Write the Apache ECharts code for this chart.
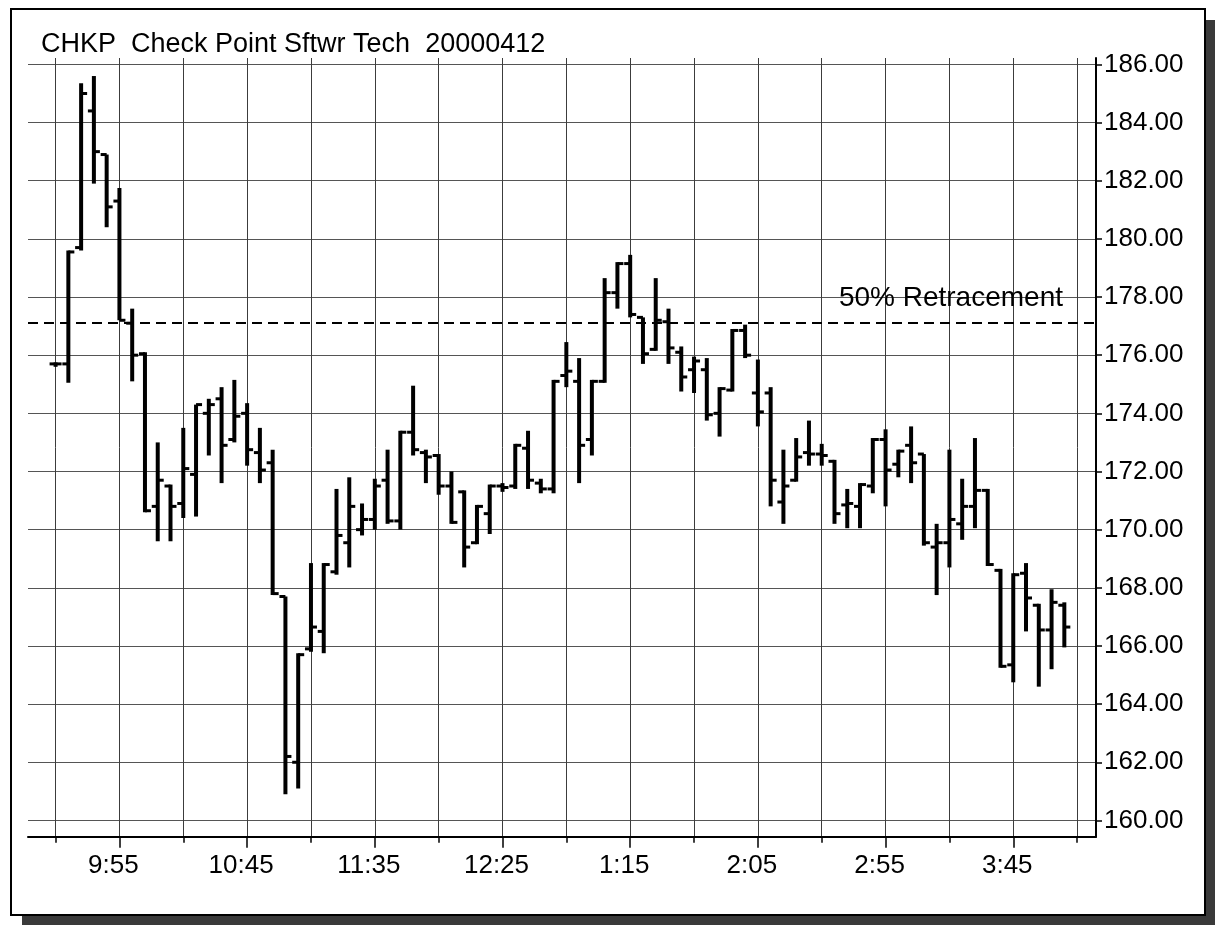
<!DOCTYPE html>
<html><head><meta charset="utf-8">
<script src="https://cdn.jsdelivr.net/npm/echarts@6/dist/echarts.min.js"></script>
<style>html,body{margin:0;padding:0;background:#fff}#c{width:1215px;height:925px}</style>
</head><body><div id="c"></div>
<script>
// ---- data ----
const chartTitle = 'CHKP  Check Point Sftwr Tech  20000412';
const barMinutes = 5; // each bar is 5 minutes, first bar at 9:30
const opens  = [175.7,175.7,179.7,184.4,182.9,181.3,177.1,176.05,170.8,171.5,
                170.9,171.9,174.0,174.5,173.1,174.0,172.65,172.3,167.7,162.0,
                165.9,166.5,168.55,169.55,170.0,170.35,171.7,170.3,173.35,172.65,
                172.55,171.5,171.3,169.55,170.55,171.5,171.5,172.8,171.6,171.4,
                175.3,175.1,173.1,175.1,178.15,179.15,177.3,176.2,177.15,176.1,
                175.5,175.5,174.0,174.8,176.85,174.7,174.7,170.95,171.7,172.65,
                172.6,172.35,170.85,170.8,171.5,173.1,172.25,172.9,172.6,169.4,
                169.55,170.2,170.8,171.35,168.6,165.35,168.5,167.4,166.55,167.4];
const highs  = [175.75,179.6,185.35,185.6,182.9,181.75,177.6,176.1,173.0,171.55,
                173.5,174.3,174.5,174.9,175.15,174.35,173.5,172.75,167.7,165.75,
                168.85,168.85,171.4,171.8,170.9,171.75,172.75,173.4,174.95,172.75,
                172.6,172.0,171.35,170.85,171.55,171.6,172.95,173.4,171.75,175.15,
                176.45,175.9,175.15,178.65,179.2,179.45,177.3,178.65,177.6,176.3,
                175.95,175.9,174.9,176.9,177.05,175.85,174.9,172.75,173.15,173.75,
                172.95,172.4,171.4,171.6,173.15,173.45,172.75,173.55,172.6,170.2,
                172.75,171.75,173.15,171.4,168.65,168.5,168.85,167.45,167.95,167.5];
const lows   = [175.6,175.05,179.6,181.9,180.4,177.2,175.1,170.6,169.6,169.6,
                170.4,170.45,172.55,171.6,173.0,172.2,171.6,167.75,160.9,161.1,
                165.8,165.75,168.45,168.7,169.8,170.0,170.2,170.0,172.55,171.6,
                171.2,170.2,168.7,169.5,169.85,171.3,171.4,171.4,171.25,171.25,
                174.9,171.6,172.55,175.05,177.6,177.3,175.7,176.15,175.7,174.75,
                174.7,173.75,173.2,174.75,175.9,173.55,170.8,170.2,171.65,172.2,
                172.2,170.2,170.05,170.05,171.25,170.8,171.8,171.6,169.45,167.75,
                168.7,169.65,170.05,168.75,165.25,164.75,166.5,164.6,165.2,165.95];
const closes = [175.7,179.55,185.0,183.0,181.1,177.2,176.0,170.65,171.7,170.8,
                172.1,174.3,174.3,172.9,173.9,172.75,172.05,167.8,162.2,165.7,
                166.65,168.8,169.8,170.8,170.35,171.5,170.3,173.35,172.75,172.5,
                171.5,170.25,169.4,170.8,171.5,171.45,172.9,171.7,171.4,175.1,
                175.45,172.9,175.1,178.15,179.15,177.4,176.05,177.2,176.25,175.25,
                175.8,173.95,174.85,176.85,176.0,174.05,171.7,171.5,172.5,172.6,
                172.55,170.55,170.9,171.55,173.1,172.05,172.7,172.3,169.55,169.55,
                170.35,170.8,171.35,168.8,165.3,168.45,167.65,166.55,167.5,166.65];
const gridTickMinutes  = [0,25,50,75,100,125,150,175,200,225,250,275,300,325,350,375,400];
const labelTickMinutes = [25,75,125,175,225,275,325,375];
const timeLabels       = ['9:55','10:45','11:35','12:25','1:15','2:05','2:55','3:45'];
const priceTicks = [160,162,164,166,168,170,172,174,176,178,180,182,184,186];
const retracementLevel = 177.1;
const retracementLabel = '50% Retracement';

// ---- build ----
const ohlc = opens.map((o, i) => [i * barMinutes, o, highs[i], lows[i], closes[i]]);
const FONT = '"Liberation Sans", Arial, sans-serif';

function renderItem(params, api) {
  const x = api.value(0);
  const pO = api.coord([x, api.value(1)]);
  const pH = api.coord([x, api.value(2)]);
  const pL = api.coord([x, api.value(3)]);
  const pC = api.coord([x, api.value(4)]);
  const bw = 4, tl = 4, th = 3;
  return {
    type: 'group',
    children: [
      { type: 'rect', shape: { x: pH[0] - bw / 2, y: pH[1], width: bw, height: Math.max(pL[1] - pH[1], 2) }, style: { fill: '#000' } },
      { type: 'rect', shape: { x: pO[0] - bw / 2 - tl, y: pO[1] - th / 2, width: tl + bw / 2, height: th }, style: { fill: '#000' } },
      { type: 'rect', shape: { x: pC[0], y: pC[1] - th / 2, width: tl + bw / 2, height: th }, style: { fill: '#000' } }
    ]
  };
}

const chart = echarts.init(document.getElementById('c'), null, { renderer: 'canvas' });
const xMin = -10.8, xMax = 407.4;
chart.setOption({
  animation: false,
  backgroundColor: '#fff',
  textStyle: { fontFamily: FONT },
  title: {
    text: chartTitle, left: 41, top: 31, padding: 0,
    textStyle: { fontFamily: FONT, fontSize: 27, fontWeight: 'normal', color: '#000' }
  },
  graphic: [
    { type: 'rect', z: -20, left: 22, top: 20, shape: { width: 1193, height: 905 }, style: { fill: '#3a3a3a' } },
    { type: 'rect', z: -19, left: 10, top: 8, shape: { width: 1194, height: 906 }, style: { fill: '#fff', stroke: '#000', lineWidth: 2 } }
  ],
  grid: { left: 28, top: 58, width: 1068, height: 778.7 },
  xAxis: [
    {
      type: 'value', min: xMin, max: xMax, position: 'bottom',
      axisLine: { show: true, onZero: false, lineStyle: { color: '#000', width: 2 } },
      axisTick: { show: true, customValues: gridTickMinutes, length: 6, lineStyle: { color: '#000', width: 1.5 } },
      axisLabel: { show: false },
      splitLine: { show: true, lineStyle: { color: '#3c3c3c', width: 1 } }
    },
    {
      type: 'value', min: xMin, max: xMax, position: 'bottom',
      axisLine: { show: false, onZero: false },
      axisTick: { show: true, customValues: labelTickMinutes, length: 11, lineStyle: { color: '#000', width: 1.5 } },
      axisLabel: {
        show: true, customValues: labelTickMinutes, margin: 16, padding: [0, 12, 0, 0],
        fontFamily: FONT, fontSize: 26, color: '#000',
        formatter: v => timeLabels[labelTickMinutes.indexOf(v)] || ''
      },
      splitLine: { show: false }
    }
  ],
  yAxis: {
    type: 'value', position: 'right', min: 159.44, max: 186.22,
    axisLine: { show: true, onZero: false, lineStyle: { color: '#000', width: 2 } },
    axisTick: { show: true, customValues: priceTicks, length: 6, lineStyle: { color: '#000', width: 1.5 } },
    axisLabel: {
      show: true, customValues: priceTicks, margin: 8,
      fontFamily: FONT, fontSize: 26, color: '#000',
      formatter: v => v.toFixed(2)
    },
    splitLine: { show: true, lineStyle: { color: '#555', width: 1 } }
  },
  series: [{
    type: 'custom',
    xAxisIndex: 0, yAxisIndex: 0,
    renderItem: renderItem,
    encode: { x: 0, y: [1, 2, 3, 4] },
    data: ohlc,
    z: 5,
    markLine: {
      silent: true, symbol: 'none',
      lineStyle: { color: '#000', type: [10, 6], width: 2 },
      label: {
        show: true, position: 'insideEndTop', formatter: retracementLabel,
        fontFamily: FONT, fontSize: 28, color: '#000', padding: [0, 28, 6, 0]
      },
      data: [{ yAxis: retracementLevel }]
    }
  }]
});
</script></body></html>
